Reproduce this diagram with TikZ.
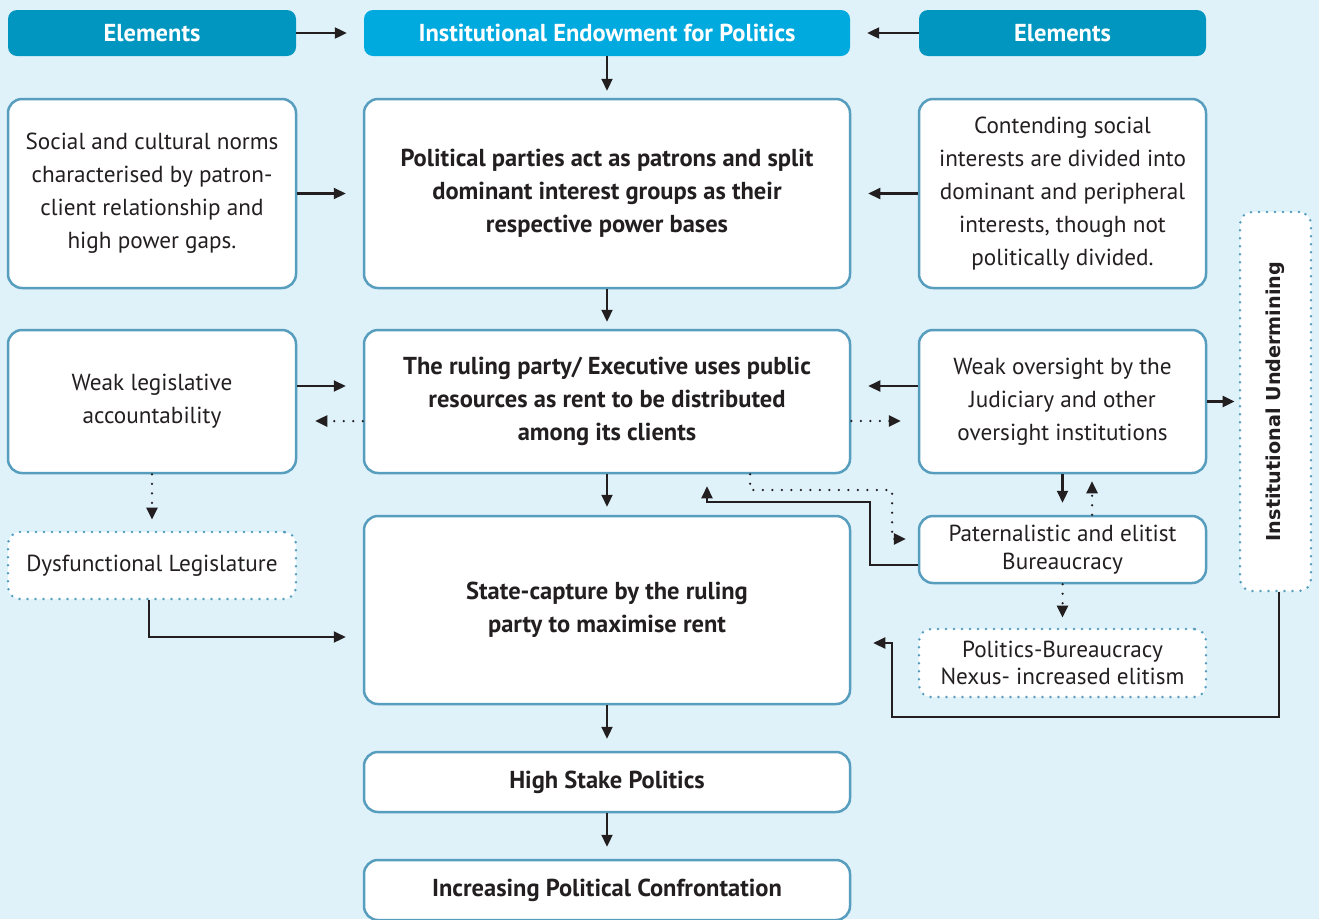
\documentclass[tikz,border=0pt]{standalone}
\usepackage{fontspec}
\setmainfont{PT Sans}
\newfontfamily\iufont{DejaVu Sans}
\usetikzlibrary{arrows.meta}
\definecolor{bgc}{RGB}{223,242,250}
\definecolor{hdark}{RGB}{0,150,192}
\definecolor{hlight}{RGB}{0,170,222}
\definecolor{bord}{RGB}{86,157,190}
\definecolor{ink}{RGB}{35,31,32}
\tikzset{
  box/.style={draw=bord, line width=2.5pt, fill=white, rounded corners=14pt, align=center, text=ink, inner sep=0pt},
  dbox/.style={draw=bord, line width=2.8pt, fill=white, rounded corners=12pt, align=center, text=ink, inner sep=0pt,
    dash pattern=on 0pt off 8pt, line cap=round},
  hdr/.style={rounded corners=9pt, align=center, text=white, inner sep=0pt, font=\fontsize{24.5}{28}\selectfont\bfseries},
  reg/.style={font=\fontsize{23.2}{33}\selectfont},
  bld/.style={font=\fontsize{24.5}{33}\selectfont\bfseries},
  arr/.style={draw=ink, line width=2.2pt, -{Triangle[length=12pt,width=11pt]}},
  dotarr/.style={draw=ink, line width=2.5pt, dash pattern=on 0pt off 9.5pt, line cap=round, -{Triangle[length=12pt,width=11pt]}},
}
\begin{document}
\begin{tikzpicture}[x=1pt,y=-1pt]
\fill[bgc] (0,0) rectangle (1319,919);
\useasboundingbox (0,0) rectangle (1319,919);
% headers
\node[hdr, fill=hdark, minimum width=288pt, minimum height=46pt] (elL) at (152,33) {Elements};
\node[hdr, fill=hlight, minimum width=486pt, minimum height=46pt] (inst) at (607,33) {Institutional Endowment for Politics};
\node[hdr, fill=hdark, minimum width=287pt, minimum height=46pt] (elR) at (1062.5,33) {Elements};
% row 2
\node[box, reg, minimum width=288pt, minimum height=189pt] (soc) at (152,193.5) {Social and cultural norms\\characterised by patron-\\client relationship and\\high power gaps.};
\node[box, bld, minimum width=486pt, minimum height=189pt] (pp) at (607,193.5) {Political parties act as patrons and split\\dominant interest groups as their\\respective power bases};
\node[box, reg, minimum width=287pt, minimum height=189pt] (cont) at (1062.5,193.5) {Contending social\\interests are divided into\\dominant and peripheral\\interests, though not\\politically divided.};
% row 3
\node[box, reg, minimum width=288pt, minimum height=143pt] (wl) at (152,401.5) {Weak legislative\\accountability};
\node[box, bld, minimum width=486pt, minimum height=143pt] (rp) at (607,401.5) {The ruling party/ Executive uses public\\resources as rent to be distributed\\among its clients};
\node[box, reg, minimum width=287pt, minimum height=143pt] (wo) at (1062.5,401.5) {Weak oversight by the\\Judiciary and other\\oversight institutions};
\node[dbox, minimum width=71pt, minimum height=379pt] (iu) at (1275.5,401.5) {};
\node[rotate=90, text=ink, font=\fontsize{19.2}{21}\iufont\bfseries] (iut) at (iu.center) {Institutional Undermining};
% row 4
\node[dbox, reg, minimum width=288pt, minimum height=67pt] (dl) at (152,565.5) {Dysfunctional Legislature};
\node[box, bld, minimum width=486pt, minimum height=188pt] (sc) at (607,610) {State-capture by the ruling\\party to maximise rent};
\node[box, font=\fontsize{23.2}{28}\selectfont, minimum width=287pt, minimum height=67pt] (pb) at (1062.5,549.5) {Paternalistic and elitist\\Bureaucracy};
\node[dbox, font=\fontsize{23.2}{27}\selectfont, minimum width=287pt, minimum height=68pt] (pbn) at (1062.5,663) {Politics-Bureaucracy\\Nexus- increased elitism};
% bottom
\node[box, bld, minimum width=486pt, minimum height=60pt] (hs) at (607,782) {High Stake Politics};
\node[box, bld, minimum width=486pt, minimum height=60pt] (ic) at (607,890) {Increasing Political Confrontation};
% connectors
\draw[arr, shorten >=17pt] (elL.east) -- (inst.west);
\draw[arr, shorten >=17pt] (elR.west) -- (inst.east);
\draw[arr, shorten >=7pt] (inst.south) -- (pp.north);
\draw[arr, shorten >=17pt] (soc.east) -- (pp.west);
\draw[arr, shorten >=17pt] (cont.west) -- (pp.east);
\draw[arr, shorten >=7pt] (pp.south) -- (rp.north);
\draw[arr, shorten >=17pt] ([yshift=15.5pt]wl.east) -- ([yshift=15.5pt]rp.west);
\draw[dotarr, shorten >=18pt] ([yshift=-19.5pt]rp.west) -- ([yshift=-19.5pt]wl.east);
\draw[arr, shorten >=17pt] ([yshift=15.5pt]wo.west) -- ([yshift=15.5pt]rp.east);
\draw[dotarr, shorten >=17pt] ([yshift=-19.5pt]rp.east) -- ([yshift=-19.5pt]wo.west);
\draw[arr, shorten >=4pt] (wo.east) -- (iu.west);
\draw[arr, shorten >=8pt] (rp.south) -- (sc.north);
\draw[dotarr, shorten >=11pt] (wl.south) -- (dl.north);
\draw[arr, shorten >=17pt] ([xshift=-3pt]dl.south) |- ([yshift=-27pt]sc.west);
\draw[arr, shorten >=12pt] (wo.south) -- (pb.north);
\draw[dotarr, shorten >=7pt] ([xshift=29.5pt]pb.north) -- ([xshift=29.5pt]wo.south);
\draw[dotarr, shorten >=12pt] ([xshift=143pt]rp.south) |- (892,490) |- ([yshift=10.5pt]pb.west);
\draw[arr, shorten >=12pt] ([yshift=-15.5pt]pb.west) -| (870,502) -| ([xshift=100pt]rp.south);
\draw[dotarr, shorten >=10pt] (pb.south) -- (pbn.north);
\draw[arr, shorten >=22pt] ([xshift=3.5pt]iu.south) |- (892,717) |- ([yshift=-33pt]sc.east);
\draw[arr, shorten >=12pt] (sc.south) -- (hs.north);
\draw[arr, shorten >=12pt] (hs.south) -- (ic.north);
\end{tikzpicture}
\end{document}
